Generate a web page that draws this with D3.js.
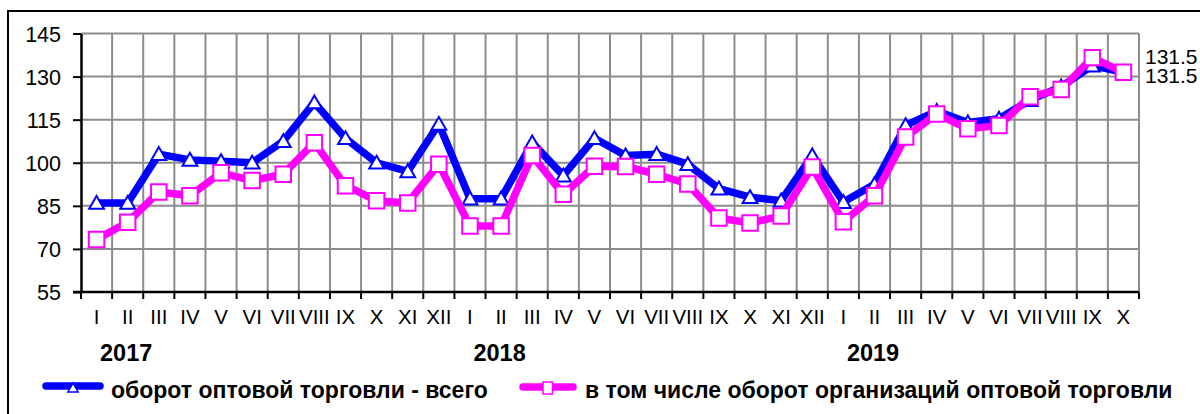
<!DOCTYPE html>
<html><head><meta charset="utf-8">
<script src="https://cdn.jsdelivr.net/npm/d3@7"></script>
<style>
html,body{margin:0;padding:0;background:#fff;}
svg text{font-family:"Liberation Sans",Arial,sans-serif;}
</style></head>
<body>
<svg id="c" width="1200" height="414"></svg>
<script>
const monthNames = ["I","II","III","IV","V","VI","VII","VIII","IX","X","XI","XII"];
const categories = [...monthNames, ...monthNames, ...monthNames.slice(0,10)];
const years = ["2017","2018","2019"];
const yearStartIndex = [0, 12, 24];
const yTicks = [55,70,85,100,115,130,145];
const seriesNames = ["оборот оптовой торговли - всего","в том числе оборот организаций оптовой торговли"];
const totalTurnover = [86,86,103,101,100.5,100,107.5,121,108.5,100,97,113.5,
  87.5,87.5,107,95.5,108.5,102.5,103,99.5,91,88,86.8,102.5,
  86.3,92.5,113,118,114,115.3,121.8,126.5,133.8,131.5];
const orgTurnover = [73.3,79.3,89.8,88.5,96.5,93.8,96,107,92,86.8,86,99.5,
  78,78,102.5,89,98.8,98.7,96,92.6,80.8,79,81.5,98.5,
  79.5,88.5,109,117,111.8,113,123,125.5,136.6,131.5];
const endLabels = ["131.5","131.5"];

const svg = d3.select("#c");
const L=81, R=1139, T=33.5, B=292;
const x = d3.scaleBand().domain(d3.range(categories.length)).range([L,R]).padding(0);
const y = d3.scaleLinear().domain([55,145]).range([B,T]);
const cx = i => x(i) + x.bandwidth()/2;

// outer frame
svg.append("path").attr("d","M8,414 L8,11 L1200,11").attr("fill","none").attr("stroke","#000").attr("stroke-width",2);

// grid
const g = svg.append("g");
yTicks.filter(t=>t>55).forEach(t=>{
  g.append("line").attr("x1",L).attr("x2",R).attr("y1",y(t)).attr("y2",y(t)).attr("stroke","#8c8c8c").attr("stroke-width",2);
});
const bounds = d3.range(categories.length+1).map(i => i<categories.length ? x(i) : R);
bounds.slice(1).forEach(bx=>{
  g.append("line").attr("x1",bx).attr("x2",bx).attr("y1",T).attr("y2",B).attr("stroke","#8c8c8c").attr("stroke-width",2);
});

// y axis
const yAxis = svg.append("g").attr("transform",`translate(${L},0)`)
  .call(d3.axisLeft(y).tickValues(yTicks).tickSize(8).tickPadding(12).tickSizeOuter(0));
yAxis.select(".domain").attr("stroke","#000").attr("stroke-width",2.5);
yAxis.selectAll(".tick line").attr("stroke","#000").attr("stroke-width",2);
yAxis.selectAll("text").attr("font-size",21.5).attr("fill","#000").attr("dy","0.36em")
  .attr("font-family","'Liberation Sans',Arial,sans-serif");

// x axis
const xAxisG = svg.append("g");
xAxisG.append("line").attr("x1",L-8).attr("x2",R).attr("y1",B).attr("y2",B).attr("stroke","#000").attr("stroke-width",2.5);
bounds.forEach(bx=>{
  xAxisG.append("line").attr("x1",bx).attr("x2",bx).attr("y1",B).attr("y2",B+7).attr("stroke","#000").attr("stroke-width",2);
});
xAxisG.selectAll("text.m").data(categories).join("text").attr("class","m")
  .attr("x",(d,i)=>cx(i)).attr("y",324).attr("text-anchor","middle")
  .attr("font-size",20.5).attr("fill","#000").text(d=>d);
xAxisG.selectAll("text.yr").data(years).join("text").attr("class","yr")
  .attr("x",(d,i)=>cx(yearStartIndex[i])+3.5).attr("y",361).attr("font-size",23.5).attr("font-weight","bold").attr("fill","#000").text(d=>d);

// lines
const line = d3.line().x((d,i)=>cx(i)).y(d=>y(d));
const tri = d3.symbol().type(d3.symbolTriangle).size(95);
const sq = d3.symbol().type(d3.symbolSquare).size(240);

svg.append("path").datum(totalTurnover).attr("d",line).attr("fill","none")
  .attr("stroke","#0000ff").attr("stroke-width",7.5).attr("stroke-linejoin","round");
svg.selectAll("path.tri").data(totalTurnover).join("path").attr("class","tri")
  .attr("d",tri).attr("transform",(d,i)=>`translate(${cx(i)},${y(d)+1.5})`)
  .attr("fill","#fff").attr("stroke","#0000ff").attr("stroke-width",2);

svg.append("path").datum(orgTurnover).attr("d",line).attr("fill","none")
  .attr("stroke","#ff00ff").attr("stroke-width",7.5).attr("stroke-linejoin","round");
svg.selectAll("path.sq").data(orgTurnover).join("path").attr("class","sq")
  .attr("d",sq).attr("transform",(d,i)=>`translate(${cx(i)},${y(d)})`)
  .attr("fill","#fff").attr("stroke","#ff00ff").attr("stroke-width",2);

// end labels
svg.append("text").attr("x",1145).attr("y",63.5).attr("font-size",21).attr("fill","#000").text(endLabels[0]);
svg.append("text").attr("x",1145).attr("y",83).attr("font-size",21).attr("fill","#000").text(endLabels[1]);

// legend
const lg = svg.append("g");
lg.append("line").attr("x1",46).attr("x2",100).attr("y1",386).attr("y2",386).attr("stroke","#0000ff").attr("stroke-width",7.5).attr("stroke-linecap","round");
lg.append("path").attr("d",d3.symbol().type(d3.symbolTriangle).size(45)).attr("transform","translate(73,389)")
  .attr("fill","#fff").attr("stroke","#0000ff").attr("stroke-width",1.5);
lg.append("text").attr("x",111).attr("y",398).attr("font-size",23).attr("font-weight","bold").attr("fill","#000").text(seriesNames[0]);
lg.append("line").attr("x1",523).attr("x2",573).attr("y1",387).attr("y2",387).attr("stroke","#ff00ff").attr("stroke-width",7.5).attr("stroke-linecap","round");
lg.append("rect").attr("x",543).attr("y",382).attr("width",9.5).attr("height",12)
  .attr("fill","#fff").attr("stroke","#ff00ff").attr("stroke-width",1.5);
lg.append("text").attr("x",585).attr("y",398).attr("font-size",23).attr("font-weight","bold").attr("fill","#000").text(seriesNames[1]);
</script>
</body></html>
